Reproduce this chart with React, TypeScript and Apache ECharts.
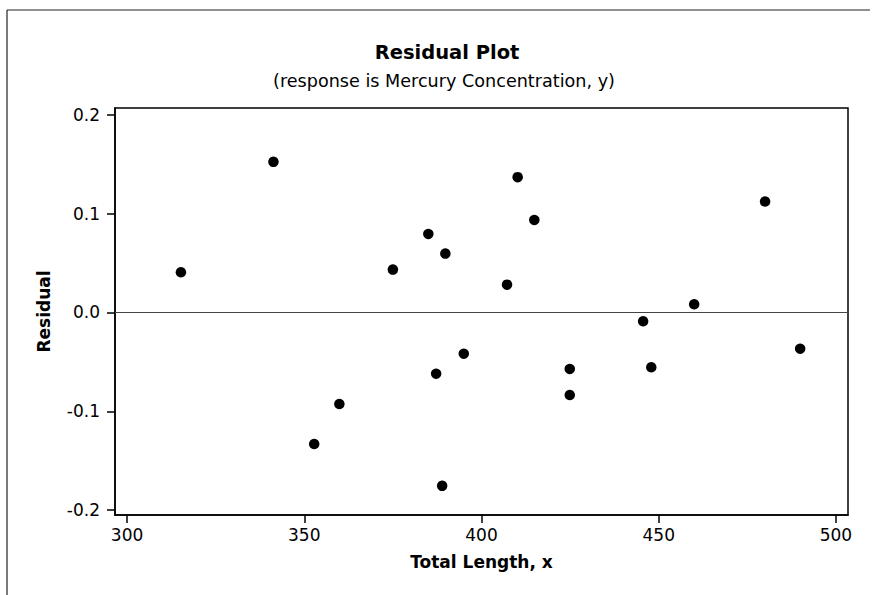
import React, { useEffect, useRef } from "react";
import * as echarts from "echarts";

const totalLength: number[] = [315.2, 341.3, 375.0, 385.0, 389.8, 395.0, 387.2, 359.9, 352.8, 388.9, 410.2, 414.9, 407.2, 460.0, 445.6, 489.9, 424.9, 447.9, 424.9, 480.0];
const residuals: number[] = [0.0407, 0.1525, 0.0434, 0.0795, 0.0596, -0.0417, -0.062, -0.0927, -0.1332, -0.1755, 0.137, 0.0937, 0.0282, 0.0083, -0.0089, -0.0367, -0.0572, -0.0555, -0.0836, 0.1123];
const xTicks: number[] = [300, 350, 400, 450, 500];
const yTicks: number[] = [-0.2, -0.1, 0.0, 0.1, 0.2];

const FONT = "'DejaVu Sans', Verdana, sans-serif";

export default function App() {
  const ref = useRef<HTMLDivElement>(null);
  useEffect(() => {
    if (!ref.current) return;
    const chart = echarts.init(ref.current, undefined, { renderer: "svg" });
    const data = totalLength.map((x, i) => [x, residuals[i]]);
    chart.setOption({
      animation: false,
      backgroundColor: "#ffffff",
      textStyle: { fontFamily: FONT },
      title: [
        {
          text: "Residual Plot",
          left: 442,
          top: 37,
          textAlign: "center",
          textStyle: { fontFamily: FONT, fontSize: 19.5, fontWeight: "bold", color: "#000" },
        },
        {
          text: "(response is Mercury Concentration, y)",
          left: 439,
          top: 67,
          textAlign: "center",
          textStyle: { fontFamily: FONT, fontSize: 17.6, fontWeight: "normal", color: "#000" },
        },
      ],
      graphic: [
        { type: "line", shape: { x1: 7, y1: 10, x2: 870, y2: 10 }, style: { stroke: "#222", lineWidth: 1.2 } },
        { type: "line", shape: { x1: 7, y1: 10, x2: 7, y2: 595 }, style: { stroke: "#222", lineWidth: 1.2 } },
      ],
      grid: {
        left: 115,
        top: 108,
        right: 32,
        bottom: 80,
        show: true,
        borderColor: "#000",
        borderWidth: 1.5,
        backgroundColor: "#fff",
      },
      xAxis: {
        type: "value",
        min: 296.6,
        max: 503.4,
        name: "Total Length, x",
        nameLocation: "middle",
        nameGap: 38,
        nameTextStyle: { fontFamily: FONT, fontSize: 17, fontWeight: "bold", color: "#000" },
        axisLine: { show: true, onZero: false, lineStyle: { color: "#000", width: 1.5 } },
        axisTick: { show: true, inside: false, length: 8, lineStyle: { color: "#000", width: 1.5 }, customValues: xTicks },
        splitLine: { show: false },
        axisLabel: {
          fontFamily: FONT,
          fontSize: 17,
          color: "#000",
          margin: 11,
          customValues: xTicks,
          formatter: (v: number) => String(v),
        },
      },
      yAxis: {
        type: "value",
        min: -0.205,
        max: 0.207,
        name: "Residual",
        nameLocation: "middle",
        nameGap: 63,
        nameRotate: 90,
        nameTextStyle: { fontFamily: FONT, fontSize: 17, fontWeight: "bold", color: "#000" },
        axisLine: { show: true, onZero: false, lineStyle: { color: "#000", width: 1.5 } },
        axisTick: { show: true, inside: false, length: 8, lineStyle: { color: "#000", width: 1.5 }, customValues: yTicks },
        splitLine: { show: false },
        axisLabel: {
          fontFamily: FONT,
          fontSize: 17,
          color: "#000",
          margin: 15,
          customValues: yTicks,
          formatter: (v: number) => v.toFixed(1),
        },
      },
      series: [
        {
          type: "scatter",
          data,
          symbol: "circle",
          symbolSize: 10.5,
          itemStyle: { color: "#000", opacity: 1 },
          markLine: {
            silent: true,
            symbol: ["none", "none"],
            label: { show: false },
            lineStyle: { color: "#444", width: 1.2, type: "solid" },
            data: [{ yAxis: 0 }],
          },
        },
      ],
    });
    return () => chart.dispose();
  }, []);
  return <div ref={ref} style={{ width: 880, height: 595, position: "absolute", left: 0, top: 0 }} />;
}
